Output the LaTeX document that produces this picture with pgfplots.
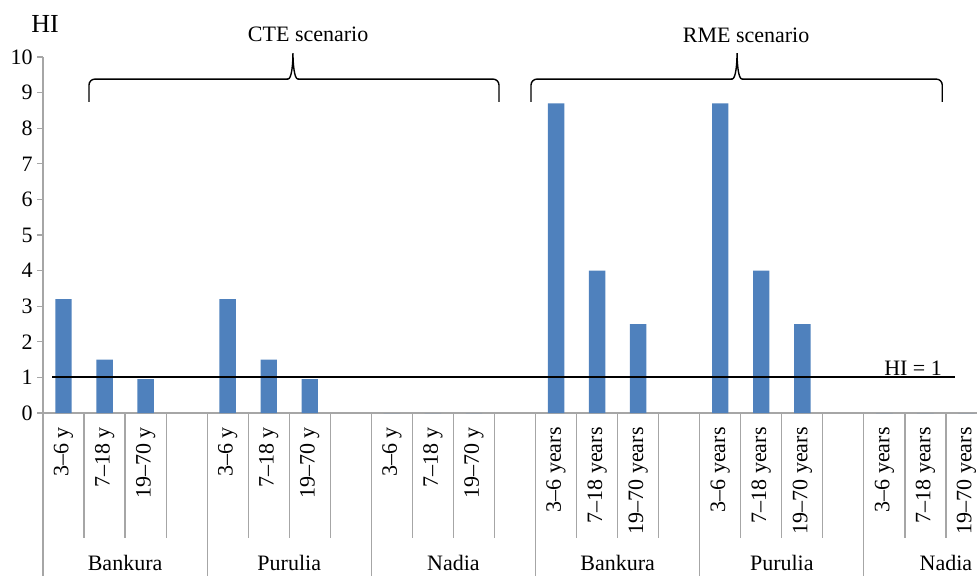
\documentclass[border=0pt]{standalone}
\usepackage{fontspec}
\setmainfont{Liberation Serif}
\usepackage{pgfplots}
\pgfplotsset{compat=1.18}
\definecolor{barblue}{HTML}{4F81BD}
\definecolor{sepgray}{HTML}{A6A6A6}
\newcommand{\scenbrace}[3]{%
  \draw[line width=0.7pt, rounded corners=3pt] (axis cs:#1,8.74) -- (axis cs:#1,9.38) -- ([xshift=-2.6pt]axis cs:#3,9.38);
  \draw[line width=0.7pt] ([xshift=-3pt]axis cs:#3,9.38) -- ([xshift=-2.5pt]axis cs:#3,9.38)
     .. controls ([xshift=-0.6pt]axis cs:#3,9.38) and ([yshift=-5pt]axis cs:#3,10.11) .. (axis cs:#3,10.11)
     .. controls ([yshift=-5pt]axis cs:#3,10.11) and ([xshift=0.6pt]axis cs:#3,9.38) .. ([xshift=2.5pt]axis cs:#3,9.38) -- ([xshift=3pt]axis cs:#3,9.38);
  \draw[line width=0.7pt, rounded corners=3pt] ([xshift=2.6pt]axis cs:#3,9.38) -- (axis cs:#2,9.38) -- (axis cs:#2,8.74);
}
\begin{document}
\fontsize{11}{13}\selectfont
\begin{tikzpicture}
\begin{axis}[
  scale only axis, width=472pt, height=178pt,
  xmin=-0.5, xmax=22.5, ymin=0, ymax=10,
  clip=false,
  axis lines*=left,
  axis line style={draw=sepgray, line width=0.6pt},
  ytick={0,1,...,10},
  tick align=outside,
  major tick length=3pt,
  ytick style={draw=sepgray, line width=0.6pt},
  yticklabel style={inner sep=2pt},
  xtick={0,1,2,4,5,6,8,9,10,12,13,14,16,17,18,20,21,22},
  xticklabels={3–6 y,7–18 y,19–70 y,3–6 y,7–18 y,19–70 y,3–6 y,7–18 y,19–70 y,
    3–6 years,7–18 years,19–70 years,3–6 years,7–18 years,19–70 years,3–6 years,7–18 years,19–70 years},
  xtick style={draw=none},
  xticklabel style={rotate=90, anchor=east, inner sep=0pt},
  xticklabel shift=4pt,
  /pgf/number format/assume math mode=true,
  ybar, bar width=0.4,
]
\addplot[fill=barblue, draw=none] coordinates {
  (0,3.2) (1,1.5) (2,0.95)
  (4,3.2) (5,1.5) (6,0.95)
  (8,0) (9,0) (10,0)
  (12,8.7) (13,4.0) (14,2.5)
  (16,8.7) (17,4.0) (18,2.5)
  (20,0) (21,0) (22,0)
};
\coordinate (O) at (axis cs:-0.5,0);
\pgfplotsinvokeforeach{-0.5,0.5,...,22.5}{\draw[sepgray, line width=0.6pt] (axis cs:#1,0) -- ([yshift=-62.5pt]axis cs:#1,0);}
\pgfplotsinvokeforeach{-0.5,3.5,...,19.5}{\draw[sepgray, line width=0.6pt] (axis cs:#1,0) -- ([yshift=-82pt]axis cs:#1,0);}
\node at ([yshift=-75pt]axis cs:1.5,0) {Bankura};
\node at ([yshift=-75pt]axis cs:5.5,0) {Purulia};
\node at ([yshift=-75pt]axis cs:9.5,0) {Nadia};
\node at ([yshift=-75pt]axis cs:13.5,0) {Bankura};
\node at ([yshift=-75pt]axis cs:17.5,0) {Purulia};
\node at ([yshift=-75pt]axis cs:21.5,0) {Nadia};
\draw[black, line width=1pt] (axis cs:-0.28,1) -- (axis cs:21.72,1);
\node[anchor=east, inner sep=0pt] at (axis cs:21.41,1.27) {HI = 1};
\node[font=\fontsize{13}{15}\selectfont] at (axis cs:-0.45,10.93) {HI};
\node at (axis cs:5.96,10.65) {CTE scenario};
\node at (axis cs:16.63,10.6) {RME scenario};
\scenbrace{0.62}{10.61}{5.59}
\scenbrace{11.39}{21.41}{16.41}
\end{axis}
\pgfresetboundingbox
\path[use as bounding box] ([shift={(-21.5pt,-81pt)}]O) rectangle ++(488.5pt,287.5pt);
\end{tikzpicture}
\end{document}
